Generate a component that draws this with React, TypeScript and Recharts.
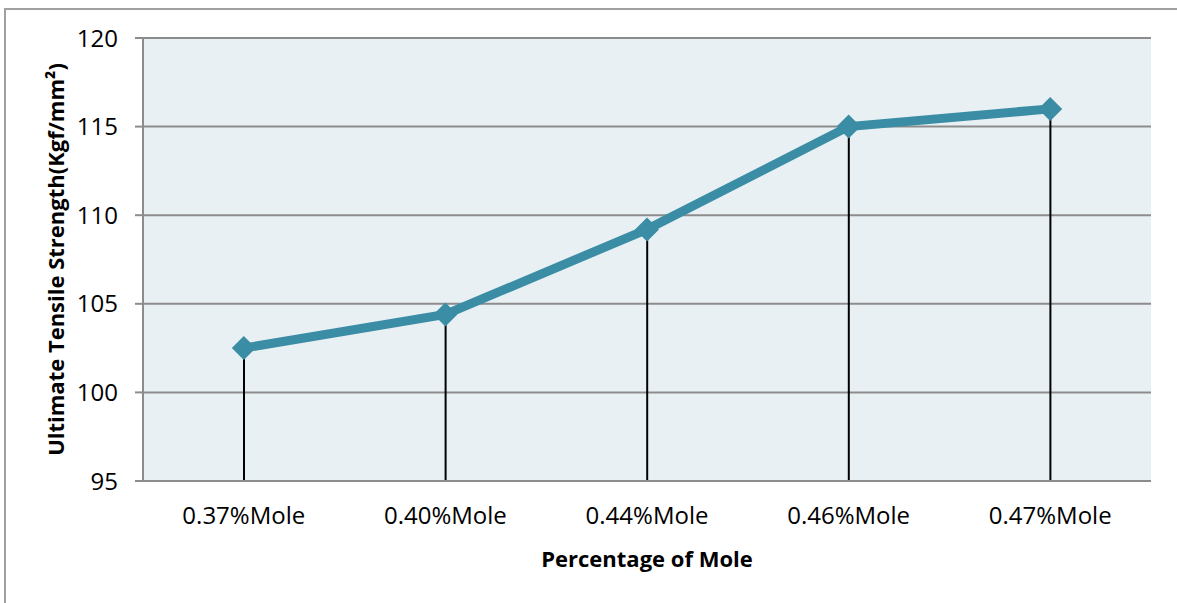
import React from "react";
import {
  ComposedChart,
  Line,
  Bar,
  XAxis,
  YAxis,
  CartesianGrid,
} from "recharts";

const categories = ["0.37%Mole", "0.40%Mole", "0.44%Mole", "0.46%Mole", "0.47%Mole"];
const strength = [102.5, 104.4, 109.2, 115.0, 116.0];
const yTicks = [95, 100, 105, 110, 115, 120];

const data = categories.map((name, i) => ({ name, value: strength[i] }));

const FONT = "'Open Sans', 'DejaVu Sans', sans-serif";
const LINE_COLOR = "#3a8da4";
const GRID_COLOR = "#8c8c8c";

function Diamond(props: any) {
  const { cx, cy } = props;
  if (cx == null || cy == null) return null;
  const r = 12;
  return (
    <path
      d={`M${cx},${cy - r} L${cx + r},${cy} L${cx},${cy + r} L${cx - r},${cy} Z`}
      fill={LINE_COLOR}
    />
  );
}

export default function App() {
  return (
    <div style={{ position: "absolute", left: 0, top: 0, width: 1177, height: 603, background: "#fff", overflow: "hidden" }}>
      <div
        style={{
          position: "absolute",
          left: 4,
          top: 8,
          width: 1200,
          height: 620,
          borderLeft: "2px solid #a0a0a0",
          borderTop: "2px solid #a0a0a0",
        }}
      />
      <div style={{ position: "absolute", left: 0, top: 0 }}>
        <ComposedChart
          width={1177}
          height={603}
          data={data}
          margin={{ top: 38, right: 26, left: 0, bottom: 0 }}
        >
          <CartesianGrid
            vertical={false}
            stroke={GRID_COLOR}
            strokeWidth={2}
            fill="#e8f0f4"
            fillOpacity={1}
          />
          <XAxis
            dataKey="name"
            height={122}
            axisLine={{ stroke: GRID_COLOR, strokeWidth: 2 }}
            tickLine={false}
            tickSize={0}
            tickMargin={26}
            tick={{ fill: "#000", fontSize: 24, fontFamily: FONT }}
            label={(p: any) => {
              const vb = p.viewBox;
              return (
                <text
                  x={vb.x + vb.width / 2}
                  y={558}
                  textAnchor="middle"
                  dominantBaseline="central"
                  fontFamily={FONT}
                  fontWeight="bold"
                  fontSize={22}
                  fill="#000"
                >
                  Percentage of Mole
                </text>
              );
            }}
          />
          <YAxis
            width={143}
            domain={[95, 120]}
            ticks={yTicks}
            interval={0}
            axisLine={{ stroke: GRID_COLOR, strokeWidth: 2 }}
            tickLine={{ stroke: GRID_COLOR, strokeWidth: 2 }}
            tickSize={8}
            tickMargin={17}
            tick={{ fill: "#000", fontSize: 24, fontFamily: FONT }}
            label={(p: any) => {
              const vb = p.viewBox;
              const x = 55;
              const y = vb.y + vb.height / 2;
              return (
                <text
                  x={x}
                  y={y}
                  transform={`rotate(-90, ${x}, ${y})`}
                  textAnchor="middle"
                  dominantBaseline="central"
                  fontFamily={FONT}
                  fontWeight="bold"
                  fontSize={22}
                  fill="#000"
                >
                  Ultimate Tensile Strength(Kgf/mm²)
                </text>
              );
            }}
          />
          <Line
            dataKey="value"
            stroke={LINE_COLOR}
            strokeWidth={9}
            dot={<Diamond />}
            activeDot={false}
            isAnimationActive={false}
          />
          <Bar dataKey="value" barSize={2} fill="#000" isAnimationActive={false} />
        </ComposedChart>
      </div>
    </div>
  );
}
